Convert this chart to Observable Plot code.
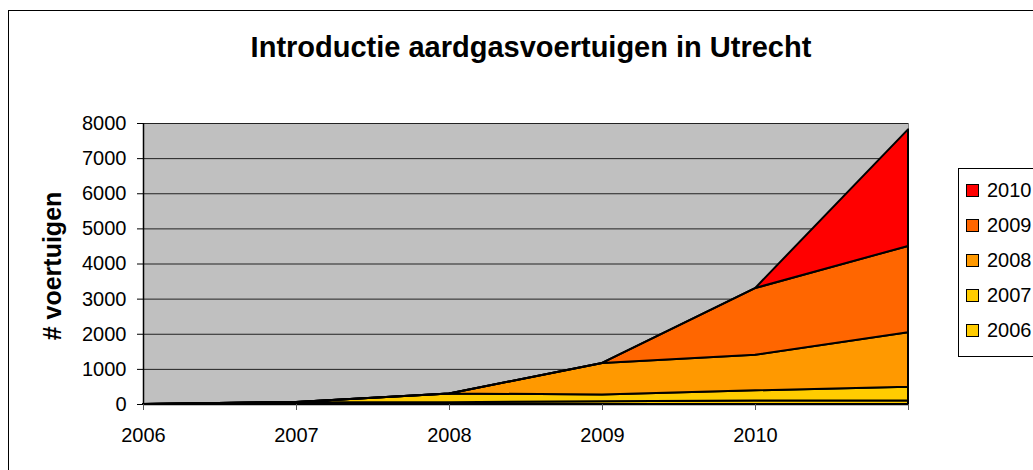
<!DOCTYPE html>
<html>
<head>
<meta charset="utf-8">
<script src="https://cdn.jsdelivr.net/npm/d3@7"></script>
<script src="https://cdn.jsdelivr.net/npm/@observablehq/plot@0.6"></script>
<style>
  html, body { margin: 0; padding: 0; background: #fff; }
  #wrap { position: relative; width: 1033px; height: 470px; overflow: hidden; font-family: "Liberation Sans", Arial, sans-serif; }
  #border { position: absolute; left: 8px; top: 10px; width: 1100px; height: 600px; border: 1px solid #000; box-sizing: border-box; }
  #chart { position: absolute; left: 0; top: 0; }
  #title { position: absolute; left: 0; width: 1062px; top: 30px; text-align: center; font-weight: bold; font-size: 29px; line-height: 34px; color: #000; }
  #ylabel { position: absolute; left: 52px; top: 266px; transform: translate(-50%, -50%) rotate(-90deg); font-weight: bold; font-size: 25px; white-space: nowrap; color: #000; }
  #legend { position: absolute; left: 958px; top: 168px; width: 120px; height: 189px; border: 1px solid #000; box-sizing: border-box; background: #fff; }
  .item { position: absolute; left: 7px; height: 24px; display: flex; align-items: center; font-size: 20px; color: #000; }
  .sw { width: 11px; height: 11px; border: 1px solid #000; margin-right: 8px; }
</style>
</head>
<body>
<div id="wrap">
  <div id="border"></div>
  <div id="chart"></div>
  <div id="title">Introductie aardgasvoertuigen in Utrecht</div>
  <div id="ylabel"># voertuigen</div>
  <div id="legend"></div>
</div>
<script>
const years = [2006, 2007, 2008, 2009, 2010, 2011];
const xTickLabels = ["2006", "2007", "2008", "2009", "2010", ""];
const yTicks = [0, 1000, 2000, 3000, 4000, 5000, 6000, 7000, 8000];
const seriesNames = ["2006", "2007", "2008", "2009", "2010"];
const s2006 = [0, 55, 50, 80, 100, 100];
const s2007 = [0, 0, 250, 190, 290, 390];
const s2008 = [0, 0, 0, 900, 1010, 1550];
const s2009 = [0, 0, 0, 0, 1900, 2460];
const s2010 = [0, 0, 0, 0, 0, 3320];
const colors = ["#FFCC00", "#FFCC00", "#FF9900", "#FF6600", "#FF0000"];

const seriesValues = [s2006, s2007, s2008, s2009, s2010];
const data = [];
seriesNames.forEach((name, i) => {
  years.forEach((yr, j) => data.push({series: name, year: yr, value: seriesValues[i][j]}));
});

const plot = Plot.plot({
  width: 1033,
  height: 470,
  marginLeft: 143,
  marginRight: 125,
  marginTop: 123,
  marginBottom: 66,
  style: {fontFamily: "'Liberation Sans', Arial, sans-serif", fontSize: "20px", color: "#000", background: "transparent"},
  x: {domain: [2006, 2011], ticks: years, tickFormat: d => xTickLabels[years.indexOf(d)] ?? "", tickSize: 6, tickPadding: 17, label: null},
  y: {domain: [0, 8000], ticks: yTicks, tickFormat: d => String(d), tickSize: 6, tickPadding: 11, label: null},
  color: {domain: seriesNames, range: colors},
  marks: [
    Plot.frame({fill: "#C0C0C0", stroke: "#808080"}),
    Plot.gridY(yTicks, {stroke: "#222", strokeOpacity: 1, strokeWidth: 1}),
    Plot.areaY(data, {x: "year", y: "value", z: "series", fill: "series", stroke: "#000", strokeWidth: 2, strokeLinejoin: "round", order: seriesNames}),
    Plot.ruleX([2006], {stroke: "#000", strokeWidth: 1.5}),
    Plot.ruleY([0], {stroke: "#000", strokeWidth: 1.5}),
    Plot.axisX({ticks: years, tickFormat: d => xTickLabels[years.indexOf(d)] ?? "", tickSize: 6, tickPadding: 17, stroke: "#555"}),
    Plot.axisY({ticks: yTicks, tickFormat: d => String(d), tickSize: 6, tickPadding: 11, stroke: "#000"})
  ]
});
document.getElementById("chart").appendChild(plot);

const legend = document.getElementById("legend");
seriesNames.slice().reverse().forEach((name, k) => {
  const idx = seriesNames.indexOf(name);
  const item = document.createElement("div");
  item.className = "item";
  item.style.top = (9 + k * 35) + "px";
  const sw = document.createElement("div");
  sw.className = "sw";
  sw.style.background = colors[idx];
  const label = document.createElement("span");
  label.textContent = name;
  item.appendChild(sw);
  item.appendChild(label);
  legend.appendChild(item);
});
</script>
</body>
</html>
